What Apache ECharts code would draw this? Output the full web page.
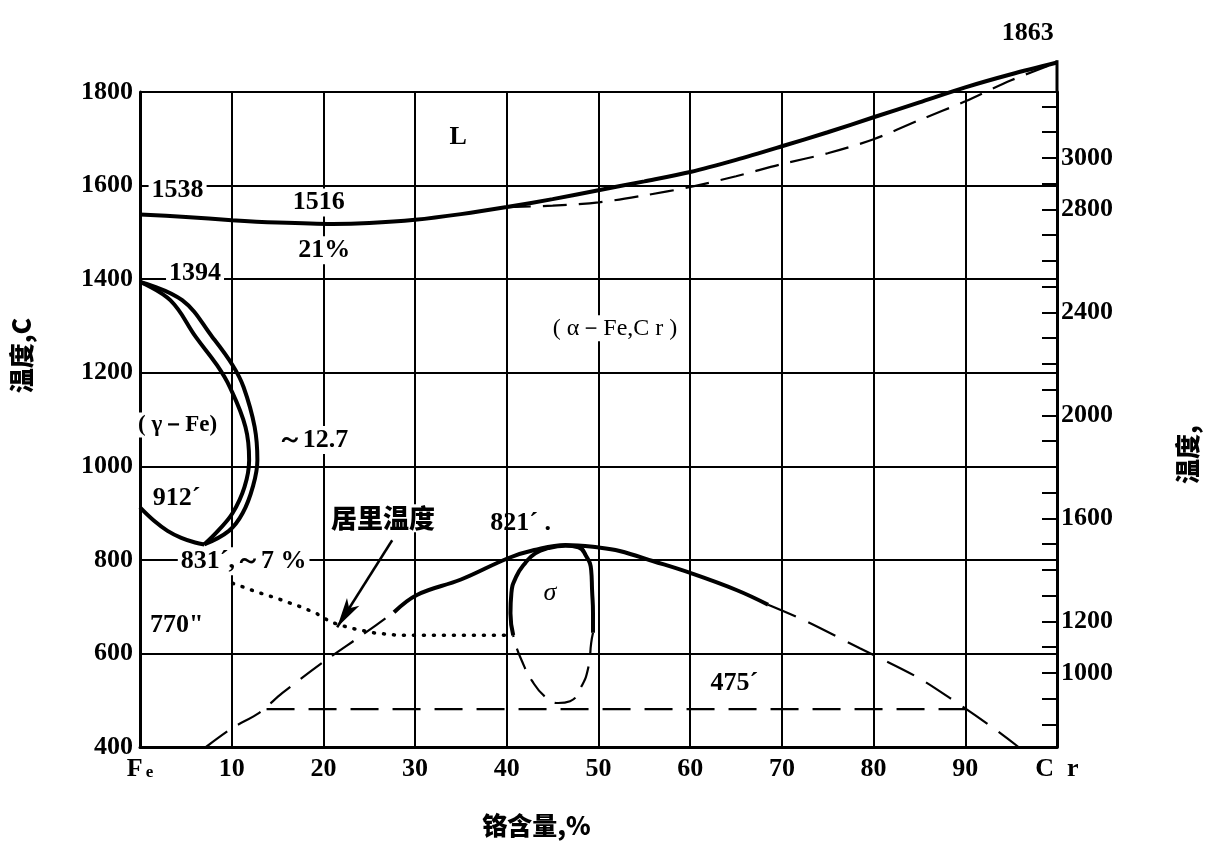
<!DOCTYPE html>
<html>
<head>
<meta charset="utf-8">
<script src="https://cdn.jsdelivr.net/npm/echarts@6/dist/echarts.min.js"></script>
<style>
html,body{margin:0;padding:0;background:#fff;}
#chart{width:1208px;height:858px;}
</style>
</head>
<body>
<div id="chart"></div>
<script>
// ---------- DATA ----------
const xTickLabels = ['Fe','10','20','30','40','50','60','70','80','90','Cr'];
const leftTicks = [400,600,800,1000,1200,1400,1600,1800];
const rightTickValues = [800,900,1000,1100,1200,1300,1400,1500,1600,1700,1800,1900,2000,2100,2200,2300,2400,2500,2600,2700,2800,2900,3000,3100,3200];
const rightLabelValues = [1000,1200,1600,2000,2400,2800,3000];

// liquidus (solid) and solidus (dashed)
const liquidus = [[0,1538],[5,1533],[10,1526],[15,1521],[21,1518],[25,1520],[30,1527],[35,1539],[40,1554],[45,1571],[50,1590],[55,1609],[60,1629],[65,1655],[70,1684],[75,1714],[80,1746],[85,1778],[90,1810],[95,1838],[100,1863]];
const solidus = [[40,1554],[45,1557],[50,1564],[55,1579],[60,1597],[65,1620],[70,1646],[75,1669],[80,1699],[85,1740],[90,1780],[95,1825],[100,1863]];

// gamma loop
const gammaInner = [[0,1394],[3.3,1355],[6.1,1276],[8.4,1216],[9.8,1169],[11.5,1084],[11.9,1013],[11.4,956],[10.1,900],[8.5,862],[7,833]];
const gammaOuter = [[0,1394],[4.6,1355],[7.9,1276],[10.1,1216],[11.3,1169],[12.5,1084],[12.8,1013],[12.3,956],[11.2,900],[9.7,862],[7,833]];
const gammaBottom = [[0,912],[1.5,884],[3,862],[4.5,847],[6,837],[7,833]];

// Curie temperature (dotted)
const curie = [[10.1,750],[12.8,731],[14.9,718],[17.6,699],[19.2,686],[20.8,667],[23,654],[25.5,644],[28,639],[34,639],[39.8,639]];

// sigma solvus arch
const archLeft = [[7.2,400],[10.1,441],[13,473],[15.5,515],[20.3,586],[24.2,639],[27.7,688]];
const archSolid = [[27.7,688],[30.2,725],[35,758],[40.2,804],[43,821],[46.4,832],[50.2,826],[52.3,819],[56,797],[60,772],[65.1,735],[68.5,704]];
const archRight = [[68.5,704],[72.4,671],[78.5,611],[84.7,550],[88.3,505],[92.6,447],[95.8,400]];

// sigma loop
const sigmaSolid = [[40.7,639],[40.4,686],[40.5,729],[41,763],[42,793],[43.1,814],[44.5,825],[46.4,830],[47.8,827],[48.6,810],[49.2,778],[49.3,735],[49.4,686],[49.4,644]];
const sigmaDashed = [[49.4,644],[49.2,622],[48.9,571],[48.1,528],[46.9,498],[45.6,494],[44.2,507],[42.7,543],[41.6,586],[40.9,622],[40.7,639]];

// 475 line
const line475 = [[13.8,481],[90,481]];
// right axis extension up to the Cr melting point
const rightEdge = [[100,1800],[100,1868]];

// curie arrow (from text to line)
const arrowFrom = [27.5,842];
const arrowTo = [21.5,656];

// annotations
const annoText = ['1538','1516','21%','1394','L','( α－Fe,C r )','( γ－Fe)','～12.7','912´','831´,～7 %','770"','居里温度','821´ .','σ','475´','1863'];
const annoX = [4.1,19.5,20.1,6.0,34.7,51.8,4.1,18.8,4.0,11.3,4.0,26.5,41.5,44.7,64.8,96.8];
const annoY = [1590,1564,1462,1413,1703,1295,1088,1056,932,797,661,889,879,729,537,1926];

// ---------- CHART ----------
const chart = echarts.init(document.getElementById('chart'));
const serif = 'Liberation Serif';
const cjk = 'Noto Sans CJK SC';
const black = '#000';

function lineSeries(data, opts) {
  return Object.assign({
    type: 'line', data: data, symbol: 'none', clip: false, silent: true,
    xAxisIndex: 0, yAxisIndex: 0,
    lineStyle: { color: black, width: 4 }
  }, opts);
}

const bgIdx = new Set([0,1,2,3,5,6,7,9,11]);
const annoData = annoText.map((t, i) => {
  const item = { value: [annoX[i], annoY[i]], name: t };
  const lab = {};
  if (bgIdx.has(i)) { lab.backgroundColor = '#fff'; lab.padding = [1, 3]; }
  if (t === '居里温度') { lab.fontFamily = cjk; lab.fontSize = 26; lab.fontWeight = 900; }
  if (t === 'σ') { lab.fontStyle = 'italic'; lab.fontSize = 26; lab.fontWeight = 'normal'; }
  if (t.indexOf('α') >= 0) { lab.fontWeight = 'normal'; lab.fontSize = 24; }
  if (t.indexOf('γ') >= 0) { lab.fontSize = 23; }
  item.label = lab;
  return item;
});

const plain = v => String(v);

const option = {
  backgroundColor: '#fff',
  animation: false,
  grid: { left: 140, right: 147, top: 92, bottom: 111 },
  xAxis: {
    type: 'value', min: 0, max: 100, interval: 10,
    name: '铬含量,%', nameLocation: 'middle', nameGap: 66,
    nameTextStyle: { fontFamily: cjk, fontSize: 25, fontWeight: 900, color: black, padding: [0, 124, 0, 0] },
    axisLine: { show: true, lineStyle: { color: black, width: 3 } },
    axisTick: { show: false },
    splitLine: { show: true, lineStyle: { color: black, width: 2 } },
    axisLabel: {
      margin: 9,
      formatter: function (v) {
        const i = Math.round(v / 10);
        const s = xTickLabels[i];
        if (s === 'Fe') return '{f|F}{e|e}';
        if (s === 'Cr') return 'C  r';
        return s;
      },
      fontFamily: serif, fontSize: 26, fontWeight: 'bold', color: black,
      rich: {
        f: { fontFamily: serif, fontSize: 26, fontWeight: 'bold', color: black },
        e: { fontFamily: serif, fontSize: 17, fontWeight: 'bold', color: black, padding: [8, 0, 0, 3] }
      }
    }
  },
  yAxis: [
    {
      type: 'value', position: 'left', min: leftTicks[0], max: leftTicks[leftTicks.length - 1], interval: 200,
      name: '温度,C', nameLocation: 'middle', nameGap: 106, nameRotate: 90,
      nameTextStyle: { fontFamily: cjk, fontSize: 25, fontWeight: 900, color: black, padding: [0, 0, 0, 128] },
      axisLine: { show: true, lineStyle: { color: black, width: 3 } },
      axisTick: { show: false },
      splitLine: { show: true, lineStyle: { color: black, width: 2 } },
      axisLabel: { margin: 7, formatter: plain, fontFamily: serif, fontSize: 26, fontWeight: 'bold', color: black }
    },
    {
      type: 'value', position: 'right', min: 712.6, max: 3256,
      name: '温度,', nameLocation: 'middle', nameGap: 118, nameRotate: 90,
      nameTextStyle: { fontFamily: cjk, fontSize: 25, fontWeight: 900, color: black, padding: [0, 70, 0, 0] },
      axisLine: { show: true, onZero: false, lineStyle: { color: black, width: 3 } },
      axisTick: { show: true, inside: true, length: 15, customValues: rightTickValues, lineStyle: { color: black, width: 2 } },
      splitLine: { show: false },
      axisLabel: { margin: 4, formatter: plain, customValues: rightLabelValues, fontFamily: serif, fontSize: 26, fontWeight: 'bold', color: black }
    }
  ],
  series: [
    lineSeries(liquidus, { smooth: 0.3, z: 5 }),
    lineSeries(solidus, { smooth: 0.3, lineStyle: { color: black, width: 2.2, type: [24, 12] } }),
    lineSeries(gammaInner, { smooth: 0.4, z: 5 }),
    lineSeries(gammaOuter, { smooth: 0.4, z: 5 }),
    lineSeries(gammaBottom, { smooth: 0.4, z: 5 }),
    lineSeries(curie, { lineStyle: { color: black, width: 3.5, type: [1, 9], cap: 'round' } }),
    lineSeries(archLeft, { smooth: 0.3, lineStyle: { color: black, width: 2.2, type: [26, 13] } }),
    lineSeries(archSolid, { smooth: 0.4, z: 5 }),
    lineSeries(archRight, { smooth: 0.3, lineStyle: { color: black, width: 2.2, type: [30, 14] } }),
    lineSeries(sigmaSolid, { smooth: 0.5, z: 5 }),
    lineSeries(sigmaDashed, { smooth: 0.5, lineStyle: { color: black, width: 2.2, type: [22, 12] } }),
    lineSeries(line475, { lineStyle: { color: black, width: 2.2, type: [28, 14] } }),
    lineSeries(rightEdge, { lineStyle: { color: black, width: 3 } }),
    {
      type: 'line', data: [], symbol: 'none', silent: true,
      markLine: {
        silent: true, symbol: ['none', 'arrow'], symbolSize: [11, 30],
        label: { show: false },
        lineStyle: { color: black, width: 2.5, type: 'solid' },
        data: [[{ coord: arrowFrom }, { coord: arrowTo }]]
      }
    },
    {
      type: 'scatter', data: annoData, symbolSize: 0, clip: false, silent: true, z: 10,
      itemStyle: { color: black },
      label: {
        show: true, position: 'inside', formatter: '{b}', opacity: 1,
        fontFamily: serif, fontSize: 26, fontWeight: 'bold', color: black,
        textBorderWidth: 0, textBorderColor: 'transparent'
      }
    }
  ]
};
chart.setOption(option);
</script>
</body>
</html>
